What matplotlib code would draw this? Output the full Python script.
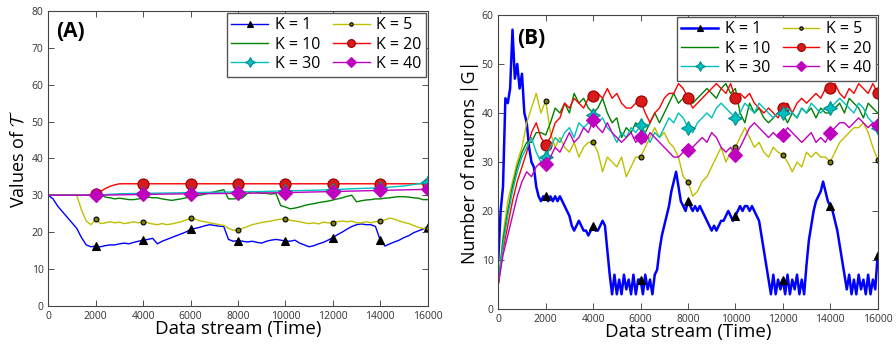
import numpy as np
import matplotlib
matplotlib.use("Agg")
import matplotlib.pyplot as plt

plt.rcParams['font.family'] = ['Open Sans', 'DejaVu Sans']
plt.rcParams['mathtext.fontset'] = 'cm'

# ---------------- data ----------------
MARK_T = [2000, 4000, 6000, 8000, 10000, 12000, 14000, 16000]
LABELS = ["K = 1", "K = 5", "K = 10", "K = 20", "K = 30", "K = 40"]
COLORS = [(0, 0, 1), (0.75, 0.75, 0), (0, 0.5, 0), (1, 0, 0), (0, 0.75, 0.75), (0.75, 0, 0.75)]

T200 = np.arange(0, 16001, 200)
T100 = np.arange(0, 16001, 100)

# Panel A: values of T
A_K1 = [30, 29, 27, 25.5, 24, 22.5, 21, 18.5, 16.5, 16, 16.2, 16, 16.3, 16.5, 16.5, 16.8, 17, 16.8, 17.2, 17.5,
        17.8, 18, 18.3, 16.8, 17.5, 18, 18.5, 19, 19.5, 20, 20.7, 21, 21.3, 21.7, 22, 21.8, 21.6, 21.5, 18, 17.5,
        17.7, 17.5, 17.3, 17.5, 17.2, 17, 17.5, 17.8, 18, 17.8, 17.6, 17.5, 17.8, 17, 16.5, 16, 16.3, 16.8, 17.2, 17.8,
        18.5, 19.3, 20, 20.8, 21.5, 22, 22.2, 22, 22, 21.5, 17.8, 16.2, 16.8, 17.3, 17.8, 18.5, 19, 19.8, 20.3, 20.8,
        21.3]
A_K5 = [30, 30, 30, 30, 30, 30, 30, 26, 23, 22, 23.5, 22.3, 22.5, 22.8, 22.5, 22.7, 22.3, 22.5, 22.8, 22.5,
        22.8, 22.5, 22.2, 22, 22.3, 22, 22.2, 22.5, 22.8, 23.3, 23.7, 23.5, 23, 22.8, 22.5, 22.3, 22, 21.8, 21, 20.5,
        20.6, 21, 21.5, 22, 22.3, 22.6, 22.8, 23, 23.3, 23.5, 23.5, 23.2, 23, 22.8, 22.5, 22.3, 22.5, 22.2, 22.7, 22.5,
        22.4, 22.8, 23, 22.8, 23, 22.5, 22.5, 22.8, 22.5, 22.8, 23, 23.3, 23.8, 23.5, 23, 22.6, 22.3, 21.8, 21.3, 21,
        21]
A_K10 = [30, 30, 30, 30, 30, 30, 30, 30, 30, 30, 30, 30.3, 29.5, 29.3, 29, 29.2, 29, 28.8, 28.8, 29,
         29.2, 29.5, 29.3, 29.3, 29, 28.8, 28.6, 28.8, 29, 29.3, 29.6, 29.8, 30, 30.3, 30.6, 30.9, 31.2, 31.5, 29, 29,
         29.1, 29.3, 30.5, 31, 30.8, 30.5, 30.5, 30.3, 30.5, 27.2, 26.8, 26.3, 26.5, 26.8, 27.2, 27.5, 27.7, 28, 28.2, 28.4,
         28.7, 29, 29.3, 29.7, 30, 28.2, 28.5, 28.7, 28.8, 29, 29, 29.2, 29.3, 29.5, 29.6, 29.6, 29.5, 29.3, 29.2, 28.8,
         28.8]
A_K20_T = [0, 1800, 2000, 2200, 2400, 2600, 2800, 3000, 4000, 6000, 8000, 10000, 12000, 14000, 16000]
A_K20 = [30, 30, 30.3, 31, 31.8, 32.4, 32.8, 33.1, 33.1, 33.1, 33.1, 33.1, 33.1, 33.1, 33.1]
A_K30_T = [0, 2000, 3000, 4000, 5000, 6000, 7000, 8000, 9000, 10000, 11000, 12000, 13000, 14000, 15000, 15500, 16000]
A_K30 = [30, 30, 30.4, 30.5, 30.6, 30.7, 30.8, 30.9, 31, 31.2, 31.3, 31.5, 31.8, 32, 32.5, 33, 33.5]
A_K40_T = [0, 2000, 4000, 6000, 8000, 10000, 12000, 14000, 16000]
A_K40 = [30, 30, 30.2, 30.4, 30.5, 30.7, 31, 31.3, 31.6]

# Panel B: number of neurons |G|  (K = 1 on a 100-step grid, others on a 200-step grid)
B_K1 = [10, 20, 25, 43, 42, 45, 57, 47, 50, 45, 48, 40, 38, 33, 30, 29, 25, 23, 22, 23,
        23, 22, 23, 22, 23, 22, 23, 22, 21, 20, 19, 17, 16, 17, 18, 17, 16, 16, 15, 16,
        17, 16, 16, 17, 18, 17, 12, 7, 3, 7, 3, 6, 3, 7, 4, 6, 3, 7, 3, 6,
        6, 3, 7, 4, 6, 3, 7, 8, 12, 15, 17, 19, 21, 24, 26, 28, 25, 22, 21, 20,
        22, 21, 20, 21, 20, 21, 20, 19, 18, 17, 16, 17, 16, 17, 18, 18, 19, 20, 19, 18,
        19, 20, 21, 20, 21, 21, 20, 21, 20, 19, 18, 15, 12, 9, 6, 3, 7, 3, 6, 4,
        6, 3, 7, 3, 6, 4, 7, 3, 6, 3, 9, 14, 17, 20, 22, 23, 24, 26, 24, 22,
        21, 20, 18, 16, 13, 10, 7, 4, 7, 3, 6, 3, 7, 4, 6, 3, 7, 3, 6, 4,
        11]
B_K5 = [5, 15, 22, 26, 30, 33, 38, 41, 44, 40, 42.5, 36, 33, 35, 33, 32, 34, 31, 33, 34,
        34, 32, 28, 31, 30, 29, 31, 27, 29, 31, 31, 33, 35, 37, 35, 36, 34, 33, 31, 27,
        26, 23, 24, 26, 27, 29, 31, 33, 30, 32, 33, 35, 37, 35, 33, 34, 32, 31, 33, 32,
        31.5, 30, 28, 30, 29, 32, 31, 32, 31, 31, 30, 32, 34, 35, 36, 37, 37, 38, 36, 33,
        30.5]
B_K10 = [5, 14, 20, 25, 29, 32, 34, 34, 36, 36, 35.5, 38, 41, 40, 42, 40, 44, 42, 43, 41,
         40, 41, 43, 40, 38, 39, 35, 37, 36, 38, 37, 36, 38, 40, 38, 40, 42, 44, 42, 43,
         44, 42, 43, 44, 45, 44, 43, 45, 46, 44, 45, 40, 38, 42, 40, 41, 39, 38, 39, 40,
         40, 38, 40, 39, 41, 40, 41, 39, 41, 40, 40, 41, 42, 40, 43, 42, 41, 39, 42, 41,
         40]
B_K20 = [5, 12, 17, 22, 26, 29, 32, 36, 38, 35, 33.5, 35, 38, 39, 42, 41, 43, 42, 41, 43,
         43.5, 44, 43, 45, 43, 44, 42, 41, 41, 42, 42.5, 40, 38, 40, 41, 43, 44, 44, 46, 45,
         43, 41, 42, 43, 44, 45, 46, 45, 44, 46, 43, 44, 43, 44, 42, 41, 40, 41, 40, 39,
         41, 42, 40, 42, 43, 42, 43, 44, 43, 45, 45, 46, 44, 43, 45, 44, 46, 45, 44, 46,
         44]
B_K30 = [5, 13, 19, 24, 28, 31, 33, 35, 32, 30, 31, 33, 35, 34, 36, 37, 35, 38, 37, 38,
         39.5, 38, 39, 37, 36, 34, 36, 35, 37, 36, 37.5, 36, 34, 36, 35, 37, 39, 38, 40, 39,
         37, 36, 38, 39, 40, 39, 41, 42, 41, 40, 39, 40, 42, 41, 40, 42, 41, 40, 39, 40,
         40, 41, 40, 39, 41, 40, 42, 41, 40, 41, 41, 42, 43, 42, 41, 40, 42, 41, 39, 38,
         37]
B_K40 = [5, 11, 15, 19, 23, 26, 28, 27, 29, 30, 29.5, 31, 33, 32, 34, 36, 34, 35, 37, 36,
         38.5, 37, 36, 38, 36, 35, 34, 35, 36, 34, 35, 34, 36, 35, 34, 33, 32, 31, 31, 32,
         32.5, 33, 34, 35, 34, 36, 35, 33, 32, 33, 31.5, 33, 35, 37, 38, 37, 36, 35, 36, 35,
         35.5, 37, 36, 35, 34, 35, 36, 34, 35, 34, 36, 37, 38, 38, 37, 38, 39, 38, 37, 38,
         37.5]

# marker styles per K
MARKERS = ['^', 'o', None, 'o', (4, 1, 0), 'D']
MSIZES = [6, 3.5, 0, 8, 10, 7]
MFACES = ['k', (0.5, 0.5, 0), None, (0.85, 0.1, 0.1), (0, 0.75, 0.75), (0.75, 0, 0.75)]
MEDGES = ['k', 'k', None, (0.6, 0, 0), (0, 0.55, 0.55), (0.75, 0, 0.75)]

fig = plt.figure(figsize=(8.96, 3.51), dpi=100)
axA = fig.add_axes([0.0539, 0.129, 0.4234, 0.8396])
axB = fig.add_axes([0.5561, 0.1197, 0.4234, 0.8376])

seriesA = [(T200, A_K1), (T200, A_K5), (T200, A_K10), (A_K20_T, A_K20), (A_K30_T, A_K30), (A_K40_T, A_K40)]
seriesB = [(T100, B_K1), (T200, B_K5), (T200, B_K10), (T200, B_K20), (T200, B_K30), (T200, B_K40)]


def draw(ax, series, lws):
    handles = []
    for i, (t, v) in enumerate(series):
        t = list(t)
        idx = [t.index(m) for m in MARK_T]
        kw = dict(color=COLORS[i], lw=lws[i], label=LABELS[i])
        if MARKERS[i] is not None:
            kw.update(marker=MARKERS[i], markevery=idx, ms=MSIZES[i],
                      mfc=MFACES[i], mec=MEDGES[i], mew=0.8)
        h, = ax.plot(t, v, **kw)
        handles.append(h)
    order = [0, 2, 4, 1, 3, 5]
    leg = ax.legend([handles[j] for j in order], [LABELS[j] for j in order],
                    ncol=2, loc='upper right', fontsize=11.5, frameon=True, fancybox=False,
                    edgecolor='#555555', framealpha=1, labelspacing=0.2, columnspacing=0.8,
                    handlelength=2.3, handletextpad=0.4, borderpad=0.3, borderaxespad=0.1,
                    markerscale=0.7)
    leg.get_frame().set_linewidth(1.0)
    ax.set_xlim(0, 16000)
    ax.set_xticks(np.arange(0, 16001, 2000))
    ax.tick_params(direction='in', top=True, right=True, labelsize=7.5, length=4, width=0.6,
                   colors='#333333')
    for s in ax.spines.values():
        s.set_linewidth(0.8)
        s.set_color('#444444')
    ax.set_xlabel('Data stream (Time)', fontsize=13.5, labelpad=-1)


draw(axA, seriesA, [1.0, 1.0, 1.0, 1.0, 1.0, 1.0])
axA.set_ylim(0, 80)
axA.set_yticks(np.arange(0, 81, 10))
axA.set_ylabel(r'Values of $\mathcal{T}$', fontsize=13, labelpad=2)
axA.text(0.02, 0.965, '(A)', transform=axA.transAxes, fontsize=15, fontweight='bold', va='top', ha='left')

draw(axB, seriesB, [1.8, 1.0, 1.0, 1.0, 1.0, 1.0])
axB.set_ylim(0, 60)
axB.set_yticks(np.arange(0, 61, 10))
axB.set_ylabel('Number of neurons |G|', fontsize=13, labelpad=2)
axB.text(0.05, 0.955, '(B)', transform=axB.transAxes, fontsize=15, fontweight='bold', va='top', ha='left')

fig.savefig('out.png', dpi=100)
